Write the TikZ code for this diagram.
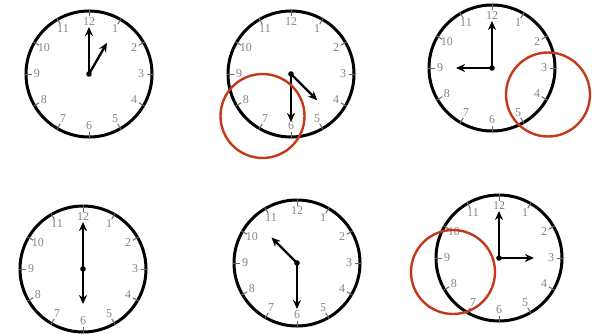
\documentclass[tikz,border=0pt]{standalone}
\usepackage{fontspec}
\setmainfont{Liberation Serif}
\usetikzlibrary{arrows.meta,calc}
\definecolor{ringred}{HTML}{C23A1A}
\definecolor{numgray}{HTML}{858585}
\tikzset{
  face/.style={line width=3pt,draw=black},
  tick/.style={line width=1pt,draw=black!60},
  num/.style={text=numgray,font=\fontsize{12}{12}\selectfont,inner sep=0pt},
  hand/.style={line width=2.3pt,draw=black,-{Stealth[length=9pt,width=8pt]}},
  pivot/.style={fill=black},
  ring/.style={line width=2.4pt,draw=ringred}
}
\newcommand\myclock[7]{%
  \coordinate (#1c) at (#2,#3);
  \draw[face] (#1c) circle[radius=63];
  \foreach \k in {1,...,12}{%
    \draw[tick] ($(#1c)+({90-30*\k}:57.5)$) -- ($(#1c)+({90-30*\k}:64.5)$);
    \node[num] (#1n\k) at ($(#1c)+({90-30*\k}:52)$) {\k};
  }
  \coordinate (#1h) at ($(#1c)+(#4:#5)$);
  \coordinate (#1m) at ($(#1c)+(#6:#7)$);
  \draw[hand] (#1c) -- (#1h);
  \draw[hand] (#1c) -- (#1m);
  \fill[pivot] (#1c) circle[radius=2.8];
}
\begin{document}
\begin{tikzpicture}[x=1pt,y=1pt]
\useasboundingbox (0,0) rectangle (600,333);
\fill[white] (0,0) rectangle (600,333);
\myclock{a}{89}{259}{60}{36}{90}{47}
\myclock{b}{291}{259}{-45}{37}{-90}{48}
\myclock{c}{492}{265}{180}{36}{90}{47}
\myclock{d}{83}{64}{-90}{35}{90}{47}
\myclock{e}{297}{70}{135}{36}{-90}{46}
\myclock{f}{499}{75}{0}{35}{90}{47}
\coordinate (r1) at (262.5,217);
\coordinate (r2) at (548,238.5);
\coordinate (r3) at (453,61);
\draw[ring] (r1) circle[radius=42];
\draw[ring] (r2) circle[radius=42];
\draw[ring] (r3) circle[radius=42];
\end{tikzpicture}
\end{document}
